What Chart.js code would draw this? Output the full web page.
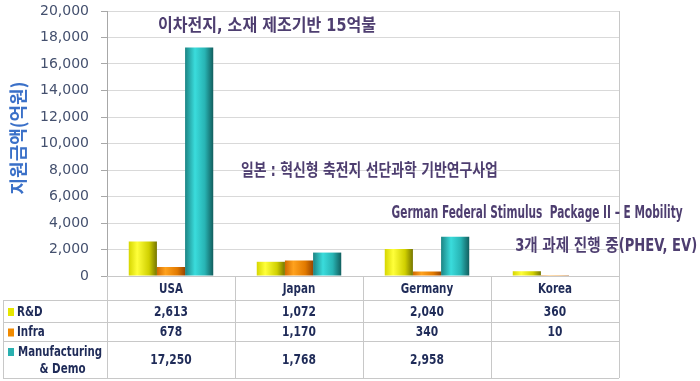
<!DOCTYPE html>
<html>
<head>
<meta charset="utf-8">
<script src="https://cdn.jsdelivr.net/npm/chart.js@4.4.1/dist/chart.umd.min.js"></script>
<style>
	html, body { margin: 0; padding: 0; background: #fff; }
	#wrap { width: 700px; height: 381px; position: relative; }
</style>
</head>
<body>
<div id="wrap"><canvas id="chart"></canvas></div>
<script>
const countries = ['USA', 'Japan', 'Germany', 'Korea'];
const rdValues = [2613, 1072, 2040, 360];
const infraValues = [678, 1170, 340, 10];
const mfgValues = [17250, 1768, 2958, null];
const seriesNames = ['R&D', 'Infra', 'Manufacturing\n& Demo'];
const yTicks = [0, 2000, 4000, 6000, 8000, 10000, 12000, 14000, 16000, 18000, 20000];
const yTitle = '지원금액(억원)';
const notes = [
	{ text: '이차전지, 소재 제조기반 15억불', cat: 0.75, value: 18800, width: 218 },
	{ text: '일본 : 혁신형 축전지 선단과학 기반연구사업', cat: 1.55, value: 7850, width: 257 },
	{ text: 'German Federal Stimulus  Package II – E Mobility', cat: 2.86, value: 4680, width: 291 },
	{ text: '3개 과제 진행 중(PHEV, EV)', cat: 3.4, value: 2190, width: 182 }
];

// cylinder-ish shading per series: [stop, colour]
const shades = [
	[[0, '#d6d600'], [0.3, '#ffff3a'], [0.72, '#d0d000'], [1, '#767600']],
	[[0, '#d26a00'], [0.3, '#ffa21e'], [0.72, '#e27a00'], [1, '#9a4600']],
	[[0, '#1c8484'], [0.35, '#3adcdc'], [0.7, '#28b4b4'], [1, '#125e5e']]
];
const keyColours = ['#e6e600', '#f08a00', '#2ab0b0'];

const fmt = (v) => v.toLocaleString('en-US');
const cond = '"DejaVu Sans Condensed", "DejaVu Sans", sans-serif';

// squeeze text horizontally, like the narrow face in the original
function narrowText(ctx, text, x, y, squeeze) {
	const w = ctx.measureText(text).width;
	ctx.fillText(text, x, y, w * squeeze);
}

const shadePlugin = {
	id: 'shade',
	beforeDatasetsDraw(chart) {
		const ctx = chart.ctx;
		chart.data.datasets.forEach((ds, di) => {
			chart.getDatasetMeta(di).data.forEach((bar) => {
				const left = bar.x - bar.width / 2;
				const g = ctx.createLinearGradient(left, 0, left + bar.width, 0);
				shades[di].forEach(([s, c]) => g.addColorStop(s, c));
				bar.options = Object.assign({}, bar.options, { backgroundColor: g });
			});
		});
	}
};

const tablePlugin = {
	id: 'table',
	afterDraw(chart) {
		const ctx = chart.ctx;
		const area = chart.chartArea;
		const x = chart.scales.x;
		const y = chart.scales.y;
		const colW = (area.right - area.left) / countries.length;
		const rowH = [24, 22, 19, 37];
		const tableLeft = 3;
		const rows = [area.bottom];
		rowH.forEach((h) => rows.push(rows[rows.length - 1] + h));

		ctx.save();
		// right edge of plot
		ctx.strokeStyle = '#c8c8c8';
		ctx.lineWidth = 1;
		ctx.beginPath();
		ctx.moveTo(area.right + 0.5, area.top);
		ctx.lineTo(area.right + 0.5, area.bottom);
		ctx.stroke();

		// grid of the table
		ctx.beginPath();
		rows.forEach((ry, i) => {
			const from = i === 0 ? area.left : tableLeft;
			ctx.moveTo(from, Math.round(ry) + 0.5);
			ctx.lineTo(area.right, Math.round(ry) + 0.5);
		});
		ctx.moveTo(tableLeft + 0.5, rows[1]);
		ctx.lineTo(tableLeft + 0.5, rows[4]);
		for (let i = 0; i <= countries.length; i++) {
			const cx = Math.round(area.left + i * colW) + 0.5;
			ctx.moveTo(cx, area.bottom);
			ctx.lineTo(cx, rows[4]);
		}
		ctx.stroke();

		ctx.fillStyle = '#1f2b58';
		ctx.textAlign = 'center';
		ctx.textBaseline = 'middle';
		ctx.font = 'bold 14px ' + cond;
		countries.forEach((c, i) => {
			narrowText(ctx, c, x.getPixelForValue(i), (rows[0] + rows[1]) / 2 + 1, 0.82);
		});

		const series = [rdValues, infraValues, mfgValues];
		series.forEach((vals, si) => {
			const cy = (rows[si + 1] + rows[si + 2]) / 2 + 1;
			vals.forEach((v, i) => {
				if (v === null) return;
				narrowText(ctx, fmt(v), x.getPixelForValue(i), cy, 0.85);
			});

			// header column: key + name
			const lines = seriesNames[si].split('\n');
			ctx.fillStyle = keyColours[si];
			const keyY = lines.length > 1 ? rows[si + 1] + 11 : cy;
			ctx.fillRect(tableLeft + 5, keyY - 4, 6, 8);
			ctx.fillStyle = '#1f2b58';
			ctx.textAlign = 'left';
			if (lines.length === 1) {
				narrowText(ctx, lines[0], tableLeft + 14, cy, 0.82);
			} else {
				ctx.fillText(lines[0], tableLeft + 15, rows[si + 1] + 11, 84);
				ctx.textAlign = 'center';
				narrowText(ctx, lines[1], (tableLeft + 15 + area.left) / 2, rows[si + 1] + 28, 0.82);
			}
			ctx.textAlign = 'center';
		});

		// y axis title
		ctx.save();
		ctx.translate(18, 138);
		ctx.rotate(-Math.PI / 2);
		ctx.fillStyle = '#3a70c8';
		ctx.font = 'bold 18px "Noto Sans CJK KR", sans-serif';
		ctx.fillText(yTitle, 0, 0, 128);
		ctx.restore();

		// annotations
		ctx.fillStyle = '#4e3e70';
		ctx.font = 'bold 17px ' + cond.replace('sans-serif', '"Noto Sans CJK KR", sans-serif');
		notes.forEach((n) => {
			ctx.fillText(n.text, x.getPixelForValue(n.cat), y.getPixelForValue(n.value), n.width);
		});
		ctx.restore();
	}
};

new Chart(document.getElementById('chart'), {
	type: 'bar',
	data: {
		labels: countries,
		datasets: [
			{ label: 'R&D', data: rdValues },
			{ label: 'Infra', data: infraValues },
			{ label: 'Manufacturing & Demo', data: mfgValues }
		].map((d, i) => Object.assign(d, {
			backgroundColor: keyColours[i],
			borderWidth: 0,
			categoryPercentage: 0.66,
			barPercentage: 1
		}))
	},
	options: {
		responsive: true,
		maintainAspectRatio: false,
		animation: false,
		layout: { padding: { top: 11, right: 81, bottom: 105, left: 0 } },
		plugins: {
			legend: { display: false },
			tooltip: { enabled: false }
		},
		scales: {
			x: { display: false },
			y: {
				min: 0,
				max: 20000,
				afterFit(scale) {
					scale.width = 107;
					scale.paddingTop = 0;
					scale.paddingBottom = 0;
				},
				afterBuildTicks(scale) { scale.ticks = yTicks.map((v) => ({ value: v })); },
				ticks: {
					callback: (v) => fmt(v),
					color: '#44506e',
					font: { family: '"DejaVu Sans", sans-serif', size: 14 },
					padding: 12
				},
				grid: { color: '#d9d9d9', tickLength: 6, tickColor: '#a8a8a8' },
				border: { color: '#a8a8a8' }
			}
		}
	},
	plugins: [shadePlugin, tablePlugin]
});
</script>
</body>
</html>
